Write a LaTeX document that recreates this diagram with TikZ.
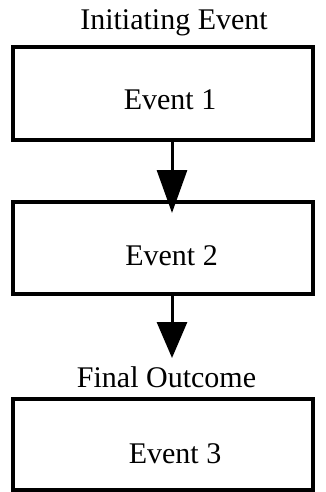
\documentclass[tikz,border=0pt]{standalone}
\usepackage{fontspec}
\setmainfont{Liberation Serif}
\usetikzlibrary{arrows.meta}
\begin{document}
\begin{tikzpicture}[x=1pt,y=-1pt,
  box/.style={draw=black, line width=3.5pt, minimum width=300pt, inner sep=0pt, outer sep=0pt},
  lbl/.style={font=\fontsize{30}{34}\selectfont, anchor=base, inner sep=0pt},
  arrA/.style={line width=3pt, -{Triangle[width=30pt,length=43pt]}},
  arrB/.style={line width=3pt, -{Triangle[width=30pt,length=36pt]}}]
\useasboundingbox (0,0) rectangle (325,492);
\node[box, minimum height=93pt] (b1) at (163,93.5) {};
\node[box, minimum height=92pt] (b2) at (163,248) {};
\node[box, minimum height=91pt] (b3) at (163,444.5) {};
\node[lbl] (t0) at (174,30) {Initiating Event};
\node[lbl] (t1) at (170,110) {Event 1};
\node[lbl] (t2) at (171.5,265) {Event 2};
\node[lbl] (t3) at (166.5,387) {Final Outcome};
\node[lbl] (t4) at (175,463) {Event 3};
\coordinate (tip1) at (172,213);
\coordinate (tip2) at (172,358);
\draw[arrA] (b1.south -| tip1) -- (tip1);
\draw[arrB] (b2.south -| tip2) -- (tip2);
\end{tikzpicture}
\end{document}
